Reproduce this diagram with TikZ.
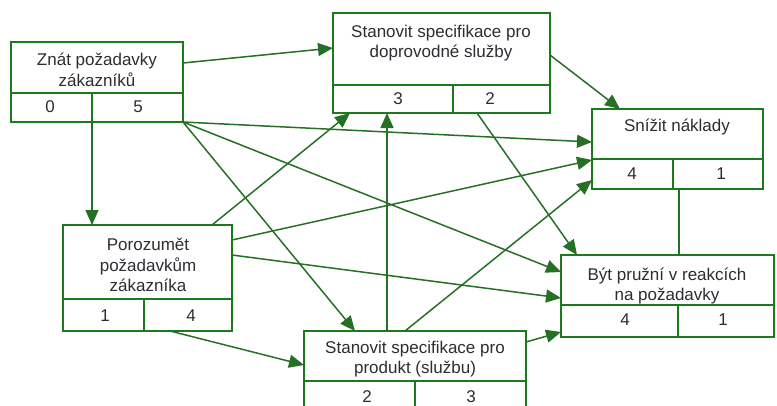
\documentclass[tikz,border=0pt]{standalone}
\usepackage{fontspec}
\setmainfont{Liberation Sans}
\usetikzlibrary{arrows.meta}
\definecolor{boxgreen}{RGB}{28,122,28}
\definecolor{linkgreen}{RGB}{38,112,38}
\definecolor{txt}{RGB}{45,45,52}

\begin{document}
\begin{tikzpicture}[x=1pt,y=-1pt,
  frame/.style={draw=boxgreen,line width=2.6pt,fill=white,inner sep=0pt,outer sep=0pt,anchor=north west},
  cell/.style={draw=boxgreen,line width=2.2pt},
  label/.style={text=txt,font=\fontsize{17}{20.5}\selectfont,align=center,inner sep=0pt},
  num/.style={text=txt,font=\fontsize{17}{20.5}\selectfont,inner sep=0pt},
  link/.style={draw=linkgreen,line width=1.5pt,-{Triangle[length=15pt,width=13pt]}},
  plain/.style={draw=linkgreen,line width=1.8pt}]
\useasboundingbox (0,0) rectangle (777,405);
\clip (0,0) rectangle (777,405);

% --- task boxes: title cell on top, two value cells below ---
\node[frame,minimum width=172pt,minimum height=80pt] (A) at (11,42) {};
\draw[cell] (A.west |- 0,93) -- (A.east |- 0,93);
\draw[cell] (92,93) -- (A.south -| 92,0);
\node[label] (A-t) at (97,70) {Znát požadavky\\zákazníků};
\node[num] (A-l) at (50,107) {0};
\node[num] (A-r) at (138,107) {5};

\node[frame,minimum width=217pt,minimum height=100pt] (B) at (333,13) {};
\draw[cell] (B.west |- 0,85) -- (B.east |- 0,85);
\draw[cell] (453,85) -- (B.south -| 453,0);
\node[label] (B-t) at (441,43) {Stanovit specifikace pro\\doprovodné služby};
\node[num] (B-l) at (398,99) {3};
\node[num] (B-r) at (490,99) {2};

\node[frame,minimum width=171pt,minimum height=80pt] (C) at (592,109) {};
\draw[cell] (C.west |- 0,159) -- (C.east |- 0,159);
\draw[cell] (673,159) -- (C.south -| 673,0);
\node[label] (C-t) at (677,127) {Snížit náklady};
\node[num] (C-l) at (632,174) {4};
\node[num] (C-r) at (721,174) {1};

\node[frame,minimum width=169pt,minimum height=106pt] (D) at (63,225) {};
\draw[cell] (D.west |- 0,299) -- (D.east |- 0,299);
\draw[cell] (144,299) -- (D.south -| 144,0);
\node[label] (D-t) at (148,265) {Porozumět\\požadavkům\\zákazníka};
\node[num] (D-l) at (105,316) {1};
\node[num] (D-r) at (191,316) {4};

\node[frame,minimum width=222pt,minimum height=80pt] (E) at (304,331) {};
\draw[cell] (E.west |- 0,381) -- (E.east |- 0,381);
\draw[cell] (415,381) -- (E.south -| 415,0);
\node[label] (E-t) at (415,359) {Stanovit specifikace pro\\produkt (službu)};
\node[num] (E-l) at (367,397) {2};
\node[num] (E-r) at (471,397) {3};

\node[frame,minimum width=213pt,minimum height=82pt] (F) at (561,255) {};
\draw[cell] (F.west |- 0,305) -- (F.east |- 0,305);
\draw[cell] (678,305) -- (F.south -| 678,0);
\node[label] (F-t) at (667,286) {Být pružní v reakcích\\na požadavky};
\node[num] (F-l) at (625,320) {4};
\node[num] (F-r) at (723,320) {1};

% --- dependencies between tasks ---
\draw[link] (A.east |- 0,63) -- (B.west |- 0,48);
\draw[link] (A.south -| 92,0) -- (D.north -| 92,0);
\draw[link] (A.south east) -- (C.west |- 0,142);
\draw[link] (A.south east) -- (F.west |- 0,272);
\draw[link] (A.south east) -- (E.north -| 355,0);
\draw[link] (B.east |- 0,55) -- (C.north -| 620,0);
\draw[link] (B.south -| 477,0) -- (F.north -| 577,0);
\draw[link] (D.north -| 212,0) -- (B.south -| 350,0);
\draw[link] (D.east |- 0,240) -- (C.west |- 0,160);
\draw[link] (D.east |- 0,255) -- (F.west |- 0,298);
\draw[link] (D.south -| 170,0) -- (E.west |- 0,365);
\draw[link] (E.north -| 387,0) -- (B.south -| 387,0);
\draw[link] (E.north -| 405,0) -- (C.west |- 0,180);
\draw[link] (E.east |- 0,342) -- (F.west |- 0,332);
\draw[plain] (C.south -| 679,0) -- (F.north -| 679,0);
\end{tikzpicture}
\end{document}
